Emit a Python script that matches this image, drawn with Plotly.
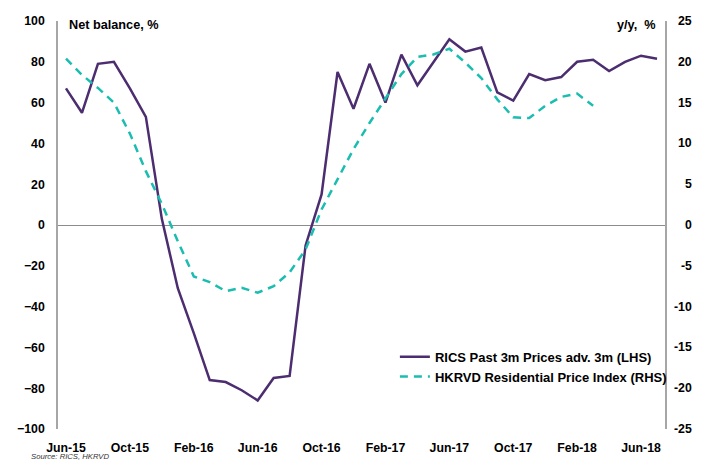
import plotly.graph_objects as go

months = ["Jun-15", "Jul-15", "Aug-15", "Sep-15", "Oct-15", "Nov-15", "Dec-15",
          "Jan-16", "Feb-16", "Mar-16", "Apr-16", "May-16", "Jun-16", "Jul-16",
          "Aug-16", "Sep-16", "Oct-16", "Nov-16", "Dec-16", "Jan-17", "Feb-17",
          "Mar-17", "Apr-17", "May-17", "Jun-17", "Jul-17", "Aug-17", "Sep-17",
          "Oct-17", "Nov-17", "Dec-17", "Jan-18", "Feb-18", "Mar-18", "Apr-18",
          "May-18", "Jun-18", "Jul-18"]

rics = [67, 55, 79, 80, 67, 53, 3, -31, -53, -76, -77, -81, -86, -75, -74, -10,
        15, 75, 57, 79, 60, 83.5, 68.5, 80, 91, 85, 87, 65, 61, 74, 71, 72.5,
        80, 81, 75.5, 80, 83, 81.5]

hkrvd = [20.4, 18.4, 16.8, 15.0, 11.2, 6.6, 2.6, -2.0, -6.3, -7.0, -8.1, -7.7,
         -8.3, -7.5, -5.8, -3.0, 1.9, 5.7, 9.3, 12.5, 15.5, 18.5, 20.6, 20.9,
         21.6, 19.9, 18.0, 15.4, 13.2, 13.1, 14.6, 15.7, 16.1, 14.6,
         None, None, None, None]

x_ticks = months[::4]
left_ticks = [-100, -80, -60, -40, -20, 0, 20, 40, 60, 80, 100]
right_ticks = [-25, -20, -15, -10, -5, 0, 5, 10, 15, 20, 25]

PURPLE = "#4B2D70"
TEAL = "#1BBDB0"
FONT = "Arial, Liberation Sans, sans-serif"
TICKFONT = dict(family=FONT, size=12.3, color="black", weight="bold")

fig = go.Figure()
fig.add_trace(go.Scatter(
    x=months, y=rics, mode="lines", name="RICS Past 3m Prices adv. 3m (LHS)",
    line=dict(color=PURPLE, width=2.5), yaxis="y"))
fig.add_trace(go.Scatter(
    x=months, y=hkrvd, mode="lines", name="HKRVD Residential Price Index (RHS)",
    line=dict(color=TEAL, width=2.5, dash="8px,6px"), yaxis="y2",
    connectgaps=False))

annotations = [
    dict(text="<b>Net balance, %</b>", xref="paper", yref="paper",
         x=0.015, y=0.99, xanchor="left", yanchor="middle", showarrow=False,
         font=dict(family=FONT, size=12.7, color="black")),
    dict(text="<b>y/y,  %</b>", xref="paper", yref="paper",
         x=0.9885, y=0.99, xanchor="right", yanchor="middle", showarrow=False,
         font=dict(family=FONT, size=12.7, color="black")),
    dict(text="<i>Source: RICS, HKRVD</i>", xref="paper", yref="paper",
         x=-0.046, y=-0.080, xanchor="left", yanchor="bottom", showarrow=False,
         borderpad=0,
         font=dict(family=FONT, size=7.7, color="#333333")),
]
for v in right_ticks:
    annotations.append(dict(text=str(v), xref="paper", yref="y2", x=1.0478, y=v,
                            xanchor="right", yanchor="middle", showarrow=False,
                            font=TICKFONT))

fig.update_layout(
    width=697, height=453,
    margin=dict(l=50, r=40, t=13, b=32, autoexpand=False),
    paper_bgcolor="white", plot_bgcolor="white",
    font=dict(family=FONT, size=12, color="black"),
    showlegend=True,
    legend=dict(x=0.555, y=0.214, xanchor="left", yanchor="top",
                bgcolor="rgba(0,0,0,0)",
                font=dict(family=FONT, size=13, color="black", weight="bold"),
                itemwidth=30, tracegroupgap=0),
    xaxis=dict(type="category", categoryorder="array", categoryarray=months,
               tickmode="array", tickvals=x_ticks, ticktext=x_ticks,
               showgrid=False, showline=False, zeroline=False, ticks="",
               ticklabelstandoff=10, tickfont=TICKFONT, automargin=False,
               range=[-0.5, len(months) - 0.5]),
    yaxis=dict(range=[-100, 100], tickmode="array", tickvals=left_ticks,
               showgrid=False, showline=True, linecolor="#A6A6A6", linewidth=1.5,
               zeroline=True, zerolinecolor="#8C8C8C", zerolinewidth=1,
               ticks="", ticklabelstandoff=9, tickfont=TICKFONT, automargin=False),
    yaxis2=dict(range=[-25, 25], tickmode="array", tickvals=right_ticks,
                overlaying="y", side="right", showticklabels=False,
                showgrid=False, showline=True, linecolor="#A6A6A6", linewidth=1.5,
                zeroline=False, ticks="", automargin=False),
    annotations=annotations,
)

fig.write_html("out.html")
